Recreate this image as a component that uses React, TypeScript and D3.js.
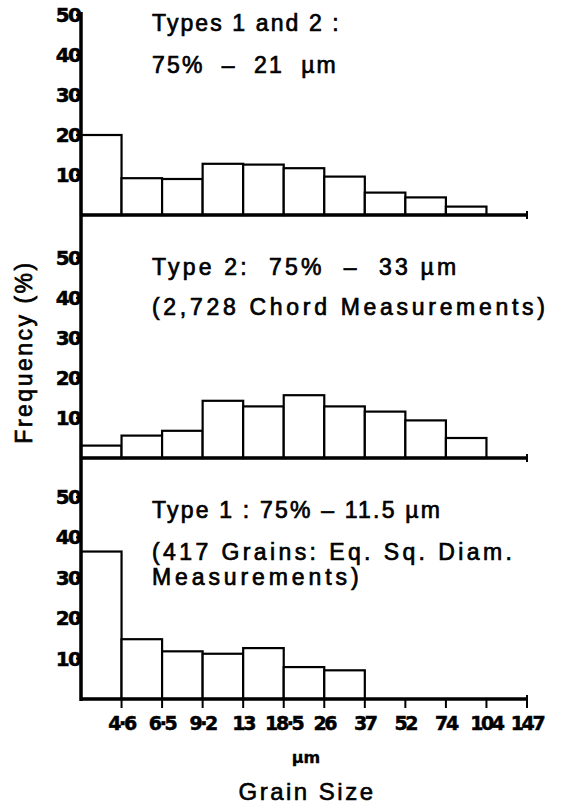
import React from 'react'
import * as d3 from 'd3'

// bin upper edges (µm), shown under the bottom panel
const binEdges = ['4·6', '6·5', '9·2', '13', '18·5', '26', '37', '52', '74', '104', '147']

// frequency (%) per bin
const typesOneAndTwo = [20, 9.2, 9, 12.8, 12.6, 11.7, 9.6, 5.6, 4.4, 2.1, 0]
const typeTwo = [3.1, 5.6, 6.8, 14.3, 12.9, 15.7, 12.9, 11.6, 9.4, 5, 0]
const typeOne = [36.5, 14.8, 11.8, 11.2, 12.6, 7.9, 7.1, 0, 0, 0, 0]

const yTicks = [10, 20, 30, 40, 50]

const panelLabels = [
  ['Types 1 and 2 :', '75%  –  21  µm'],
  ['Type 2:  75%  –  33 µm', '(2,728 Chord Measurements)'],
  ['Type 1 : 75% – 11.5 µm', '(417 Grains: Eq. Sq. Diam.', 'Measurements)'],
]

const W = 563
const H = 808
const axisX = 81
const endX = 527
const font = '"Liberation Sans", Arial, sans-serif'
const tickFont = '"DejaVu Sans", sans-serif'

const panels = [
  { data: typesOneAndTwo, base: 215, top: 15, labels: panelLabels[0], labelY: [31, 73], spacing: [2.1, 2.2] },
  { data: typeTwo, base: 458, top: 258, labels: panelLabels[1], labelY: [275, 315], spacing: [3.2, 3.7] },
  { data: typeOne, base: 699, top: 497, labels: panelLabels[2], labelY: [518, 560, 585], spacing: [2.2, 3.4, 3.9] },
]

function Panel({ p, x, showTicks }) {
  const y = d3.scaleLinear().domain([0, 50]).range([p.base, p.top])
  return (
    <g>
      {p.data.map((v, i) =>
        v > 0 ? (
          <rect key={i} x={x(i)} y={y(v)} width={x(i + 1) - x(i)} height={p.base - y(v)}
            fill="#fff" stroke="#000" strokeWidth={2.2} />
        ) : null
      )}
      <line x1={axisX} x2={endX} y1={p.base} y2={p.base} stroke="#000" strokeWidth={3.5} />
      <line x1={endX} x2={endX} y1={p.base - 4} y2={p.base + 4} stroke="#000" strokeWidth={2} />
      {yTicks.map(t => (
        <g key={t}>
          <line x1={axisX - 5} x2={axisX} y1={y(t)} y2={y(t)} stroke="#000" strokeWidth={2} />
          <text x={axisX - 1} y={y(t) + 7} textAnchor="end" fontFamily={tickFont} fontWeight="bold"
            fontSize={20} letterSpacing={-1.8} stroke="#000" strokeWidth={0.5}>{t}</text>
        </g>
      ))}
      {showTicks && binEdges.map((lab, i) => (
        <g key={lab}>
          <line x1={x(i + 1)} x2={x(i + 1)} y1={p.base} y2={p.base + 9} stroke="#000" strokeWidth={2} />
          <text x={x(i + 1)} y={p.base + 31} textAnchor="middle" fontFamily={tickFont} fontWeight="bold"
            fontSize={19} letterSpacing={-2.4} stroke="#000" strokeWidth={0.5}>{lab}</text>
        </g>
      ))}
      {p.labels.map((l, i) => (
        <text key={i} x={152} y={p.labelY[i]} fontFamily={font} fontSize={23} letterSpacing={p.spacing[i]}
          stroke="#000" strokeWidth={0.7} xmlSpace="preserve" style={{ whiteSpace: 'pre' }}>{l}</text>
      ))}
    </g>
  )
}

export default function App() {
  const x = d3.scaleLinear().domain([0, binEdges.length]).range([axisX, endX])
  return (
    <svg width={W} height={H} style={{ position: 'absolute', left: 0, top: 0, background: '#fff' }}>
      <rect width={W} height={H} fill="#fff" />
      {panels.map((p, i) => (
        <Panel key={i} p={p} x={x} showTicks={i === panels.length - 1} />
      ))}
      <line x1={axisX} x2={axisX} y1={12} y2={701} stroke="#000" strokeWidth={3.5} />
      <text transform="translate(32,352) rotate(-90)" textAnchor="middle" fontFamily={font}
        fontSize={23} letterSpacing={2.5} stroke="#000" strokeWidth={0.7}>Frequency (%)</text>
      <text x={306} y={763} textAnchor="middle" fontFamily={tickFont} fontWeight="bold" fontSize={16}
        stroke="#000" strokeWidth={0.3}>µm</text>
      <text x={307} y={800} textAnchor="middle" fontFamily={font} fontSize={24} letterSpacing={2.5}
        stroke="#000" strokeWidth={0.6}>Grain Size</text>
    </svg>
  )
}
